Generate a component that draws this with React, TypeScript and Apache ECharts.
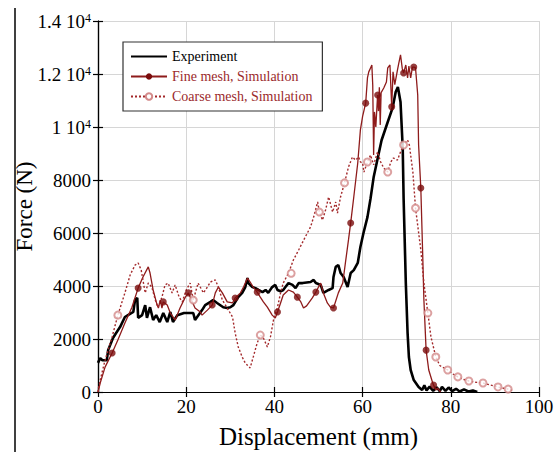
import React, { useEffect, useRef } from "react";
import * as echarts from "echarts";

const xTicks = [0, 20, 40, 60, 80, 100];
const yTicks = [0, 2000, 4000, 6000, 8000, 10000, 12000, 14000];

const experimentData: number[][] = [
  [0, 1100], [0.5, 1280], [1.0, 1200], [2.0, 1200], [2.3, 1580], [3.4, 2040], [4.0, 2200], [5.0, 2450],
  [6.1, 2830], [6.8, 2900], [8.0, 3020], [8.4, 3470], [8.9, 3550], [9.1, 2800], [10.0, 2900], [10.7, 3280],
  [11.1, 2800], [11.8, 3200], [12.5, 2720], [13.2, 2900], [14.0, 2640], [14.8, 2980], [15.7, 2640], [16.4, 3020],
  [17.0, 2640], [18.0, 2900], [19.5, 2980], [21.6, 2980], [22.0, 2720], [23.6, 3090], [24.3, 3280], [25.5, 3400],
  [26.1, 3470], [27.0, 3360], [28.4, 3200], [29.3, 3170], [30.0, 3200], [30.7, 3280], [31.8, 3580], [32.7, 3740],
  [33.4, 3960], [33.9, 4300], [34.1, 4110], [35.0, 3960], [35.7, 3920], [36.4, 3850], [37.3, 3770], [38.0, 3850],
  [38.6, 3740], [39.5, 3960], [40.2, 4040], [40.7, 3850], [41.4, 3800], [42.0, 3850], [42.5, 3960], [43.2, 4110],
  [44.1, 4040], [44.8, 3920], [45.5, 4110], [46.4, 4110], [48.2, 4150], [48.9, 4230], [49.4, 4110], [50.5, 4040],
  [51.1, 3740], [52.3, 3850], [53.2, 3920], [53.4, 4340], [53.9, 4720], [54.5, 4790], [55.0, 4490], [55.7, 4340],
  [56.6, 3960], [57.3, 4490], [58.0, 4600], [58.9, 4870], [59.5, 5470], [60.2, 6000], [61.1, 6600], [61.8, 7300],
  [62.5, 8100], [63.4, 8800], [64.3, 9500], [65.7, 10190], [66.8, 10720], [67.5, 11320], [68.0, 11510], [68.6, 10940],
  [69.1, 9200], [69.3, 7300], [69.8, 4110], [70.2, 2230], [70.5, 1320], [70.9, 830], [71.6, 450], [72.7, 190],
  [73.5, 75], [74.0, 250], [74.5, 60], [75.2, 200], [76.0, 40], [76.8, 180], [77.5, 30], [78.0, 190],
  [78.8, 40], [79.5, 170], [80.3, 30], [81.2, 120], [82.0, 20], [83.0, 100], [84.0, 20], [85.0, 60], [86.0, 0],
];

const fineData: number[][] = [
  [0, 0], [0.5, 340], [1.6, 940], [3.2, 1470], [4.5, 1960], [6.1, 2600], [7.7, 3200], [9.1, 3920],
  [10.2, 4340], [11.4, 4720], [11.8, 4490], [12.5, 3850], [13.4, 3280], [13.7, 3170], [14.1, 3470], [14.5, 3170],
  [14.8, 3400], [15.7, 3280], [16.4, 2980], [17.5, 2720], [18.6, 3170], [19.8, 3580], [20.5, 3740], [21.4, 3400],
  [22.0, 3170], [23.2, 3020], [23.6, 2900], [24.8, 3090], [25.9, 3280], [26.6, 3740], [27.3, 3960], [28.2, 3740],
  [29.3, 3400], [30.5, 3360], [31.1, 3550], [32.3, 3740], [33.0, 3960], [33.9, 4300], [34.5, 4150], [35.2, 3960],
  [36.1, 3770], [36.8, 3580], [37.5, 3400], [38.4, 3200], [39.5, 2900], [40.2, 2790], [40.7, 3020], [41.4, 3360],
  [42.0, 3660], [43.2, 3850], [44.3, 3770], [45.2, 3580], [46.0, 3400], [46.6, 3170], [47.3, 3250], [48.6, 3550],
  [49.4, 3770], [50.0, 3960], [50.5, 4110], [51.1, 3740], [52.0, 3360], [52.7, 3200], [53.4, 3170], [54.5, 3740],
  [55.5, 4110], [56.1, 4870], [56.8, 5740], [57.3, 6380], [58.0, 7360], [58.9, 8640], [59.5, 9890], [60.0, 10400],
  [60.7, 10900], [61.1, 11850], [61.4, 12080], [61.8, 12230], [62.1, 12340], [62.3, 11580], [62.5, 8940], [62.7, 10570],
  [63.0, 10000], [63.4, 11210], [63.6, 10600], [63.8, 11500], [64.0, 10080], [64.2, 11300], [64.8, 11470], [65.4, 11700],
  [65.7, 12230], [66.2, 12340], [66.6, 10760], [66.9, 12080], [67.3, 11600], [67.9, 12150], [68.2, 12400], [68.6, 12720],
  [69.0, 12200], [69.3, 12040], [69.8, 12340], [70.2, 11850], [70.5, 12300], [70.9, 11850], [71.3, 12260], [71.6, 12260],
  [72.0, 12230], [72.5, 11210], [72.7, 9320], [73.2, 7700], [73.6, 5360], [73.9, 3470], [74.4, 1580], [75.0, 830],
  [75.9, 340], [76.1, 260], [76.6, 75], [77.0, 150], [77.7, 0],
];

const fineMarkers: number[][] = [
  [3.2, 1470], [9.1, 3920], [14.8, 3400], [20.5, 3740], [25.9, 3280], [31.1, 3550], [36.1, 3770], [40.7, 3020],
  [45.2, 3580], [49.4, 3770], [53.4, 3170], [57.3, 6380], [60.7, 10900], [63.4, 11210], [66.6, 10760], [69.3, 12040],
  [71.6, 12260], [73.2, 7700], [74.4, 1580], [76.1, 260],
];

const coarseData: number[][] = [
  [0, 0], [0.5, 450], [1.6, 1200], [3.2, 2080], [4.5, 2900], [6.1, 3740], [7.3, 4420], [8.4, 4790],
  [9.1, 4870], [9.8, 4600], [10.7, 3740], [11.4, 4110], [12.2, 3960], [13.0, 3470], [13.6, 3200], [14.5, 3580],
  [15.2, 4040], [15.9, 4110], [16.8, 3740], [17.5, 4040], [18.4, 3580], [19.1, 3400], [20.0, 3850], [20.9, 4110],
  [21.6, 3470], [22.7, 4110], [23.9, 3740], [24.8, 3960], [25.5, 4150], [26.6, 4230], [27.3, 3960], [28.2, 3470],
  [29.3, 3170], [30.5, 2830], [31.1, 2230], [31.8, 1700], [32.7, 1320], [33.4, 1090], [34.5, 910], [35.2, 1320],
  [36.1, 1850], [36.8, 2150], [37.5, 2040], [38.4, 1700], [39.1, 2080], [39.8, 2720], [40.7, 3200], [41.4, 3740],
  [42.0, 4110], [43.2, 4490], [44.3, 4980], [45.5, 5360], [47.0, 5850], [48.2, 6230], [48.9, 6600], [49.8, 7170],
  [50.2, 6790], [50.9, 6490], [51.6, 6870], [52.3, 7360], [53.2, 6790], [53.9, 7170], [54.3, 6750], [55.0, 7360],
  [55.9, 7890], [56.8, 8490], [57.7, 8870], [58.4, 8750], [59.1, 8870], [59.5, 8680], [60.0, 8640], [60.3, 8300],
  [61.1, 8680], [61.8, 8940], [62.5, 8570], [63.4, 9060], [64.1, 8680], [64.8, 8450], [65.7, 8300], [66.4, 8680],
  [67.0, 8830], [67.9, 8750], [68.6, 9060], [69.3, 9320], [70.2, 9510], [70.6, 9320], [70.9, 8940], [71.4, 8300],
  [72.0, 6940], [73.2, 5360], [73.9, 4110], [74.8, 2980], [75.5, 2080], [76.6, 1320], [77.5, 1000], [79.3, 830],
  [80.5, 680], [81.6, 570], [83.0, 470], [84.1, 415], [85.5, 370], [87.3, 340], [89.0, 260], [90.7, 190],
  [92.0, 140], [93.0, 110], [94.1, 50],
];

const coarseMarkers: number[][] = [
  [4.5, 2900], [21.6, 3470], [36.8, 2150], [43.8, 4480], [50.2, 6790], [55.9, 7890], [61.1, 8680], [65.7, 8300],
  [69.3, 9320], [72.0, 6940], [74.8, 2980], [76.6, 1320], [79.3, 830], [81.6, 570], [84.1, 415], [87.3, 340],
  [90.7, 190], [93.0, 110],
];

const seriesNames = ["Experiment", "Fine mesh, Simulation", "Coarse mesh, Simulation"];

const FONT = "'Liberation Serif', 'Times New Roman', serif";
const FINE_LINE = "#8e1b1b";
const FINE_DOT = "#7a0c0c";
const COARSE_LINE = "#a3282a";
const COARSE_DOT = "#d38a8a";
const LEGEND_RED = "#9b2a2c";

export default function App() {
  const ref = useRef<HTMLDivElement>(null);

  useEffect(() => {
    if (!ref.current) return;
    const chart = echarts.init(ref.current, undefined, { renderer: "svg" });
    const yFormatter = (v: number) =>
      v >= 10000 ? `{m|${v / 10000} 10}{s|4}` : `{m|${v}}`;
    chart.setOption({
      animation: false,
      backgroundColor: "#fff",
      grid: {
        left: 98,
        right: 21,
        top: 21,
        bottom: 63,
        show: false,
        containLabel: false,
        outerBoundsMode: "none",
      },
      legend: {
        left: 123,
        top: 42,
        orient: "vertical",
        itemWidth: 36,
        itemHeight: 8,
        itemGap: 3,
        padding: [6, 10, 6, 7],
        borderColor: "#333",
        borderWidth: 1.2,
        backgroundColor: "#fff",
        textStyle: { fontFamily: FONT, fontSize: 14, color: "#000", lineHeight: 17 },
        data: [
          {
            name: seriesNames[0],
            textStyle: { color: "#000" },
            itemStyle: { color: "rgba(0,0,0,0)", borderWidth: 0 },
          },
          { name: seriesNames[1], textStyle: { color: LEGEND_RED } },
          { name: seriesNames[2], textStyle: { color: LEGEND_RED } },
        ],
      },
      graphic: [
        {
          type: "line",
          shape: { x1: 15, y1: 8, x2: 15, y2: 452 },
          style: { stroke: "#000", lineWidth: 1.5 },
        },
      ],
      xAxis: [
        {
          type: "value",
          min: xTicks[0],
          max: xTicks[xTicks.length - 1],
          interval: 20,
          name: "Displacement (mm)",
          nameLocation: "middle",
          nameGap: 32,
          nameMoveOverlap: false,
          nameTextStyle: { fontFamily: FONT, fontSize: 25, color: "#000" },
          axisLine: { show: true, lineStyle: { color: "#000", width: 1.2 } },
          axisTick: { show: true, inside: true, length: 5, lineStyle: { color: "#000", width: 1.2 } },
          axisLabel: { fontFamily: FONT, fontSize: 19, color: "#000", margin: 5 },
          splitLine: { show: true, lineStyle: { color: "#d6d6d6", width: 1 } },
        },
        {
          type: "value",
          position: "top",
          min: xTicks[0],
          max: xTicks[xTicks.length - 1],
          interval: 20,
          axisLine: { show: true, lineStyle: { color: "#000", width: 1.2 } },
          axisTick: { show: true, inside: true, length: 5, lineStyle: { color: "#000", width: 1.2 } },
          axisLabel: { show: false },
          splitLine: { show: false },
        },
      ],
      yAxis: [
        {
          type: "value",
          min: yTicks[0],
          max: yTicks[yTicks.length - 1],
          interval: 2000,
          name: "Force (N)",
          nameLocation: "middle",
          nameGap: 62,
          nameMoveOverlap: false,
          nameTextStyle: { fontFamily: FONT, fontSize: 23, color: "#000" },
          axisLine: { show: true, lineStyle: { color: "#000", width: 1.2 } },
          axisTick: { show: true, inside: true, length: 5, lineStyle: { color: "#000", width: 1.2 } },
          axisLabel: {
            margin: 7,
            formatter: yFormatter,
            rich: {
              m: { fontFamily: FONT, fontSize: 19, color: "#000" },
              s: { fontFamily: FONT, fontSize: 12, color: "#000", verticalAlign: "top" },
            },
          },
          splitLine: { show: true, lineStyle: { color: "#d6d6d6", width: 1 } },
        },
        {
          type: "value",
          position: "right",
          min: yTicks[0],
          max: yTicks[yTicks.length - 1],
          interval: 2000,
          axisLine: { show: true, lineStyle: { color: "#000", width: 1.2 } },
          axisTick: { show: true, inside: true, length: 5, lineStyle: { color: "#000", width: 1.2 } },
          axisLabel: { show: false },
          splitLine: { show: false },
        },
      ],
      series: [
        {
          name: seriesNames[0],
          type: "line",
          data: experimentData,
          symbol: "none",
          itemStyle: { color: "#000" },
          lineStyle: { color: "#000", width: 2.6 },
          z: 3,
        },
        {
          name: seriesNames[1],
          type: "line",
          data: fineData,
          symbol: "circle",
          symbolSize: 7,
          showSymbol: false,
          itemStyle: { color: FINE_DOT },
          lineStyle: { color: FINE_LINE, width: 1.3 },
          z: 4,
        },
        {
          name: seriesNames[1],
          type: "scatter",
          data: fineMarkers,
          symbol: "circle",
          symbolSize: 7,
          itemStyle: { color: FINE_DOT },
          z: 5,
        },
        {
          name: seriesNames[2],
          type: "line",
          data: coarseData,
          symbol: "emptyCircle",
          symbolSize: 7,
          showSymbol: false,
          itemStyle: { color: COARSE_DOT },
          lineStyle: { color: COARSE_LINE, width: 1.4, type: [2, 2] },
          z: 4,
        },
        {
          name: seriesNames[2],
          type: "scatter",
          data: coarseMarkers,
          symbol: "emptyCircle",
          symbolSize: 7,
          itemStyle: { color: COARSE_DOT, borderWidth: 1 },
          z: 5,
        },
      ],
    });
    return () => chart.dispose();
  }, []);

  return (
    <div
      ref={ref}
      style={{ position: "absolute", left: 0, top: 0, width: 560, height: 455 }}
    />
  );
}
